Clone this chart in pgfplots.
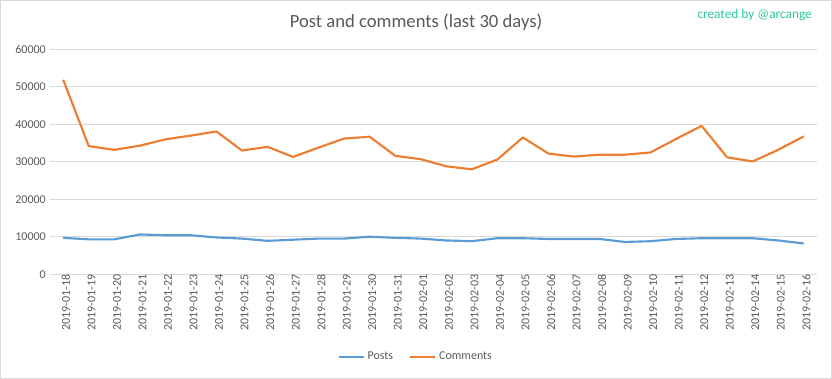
\documentclass[border=0pt]{standalone}
\usepackage{pgfplots}
\pgfplotsset{compat=1.18}
\usepackage{fontspec}
\setmainfont{Carlito}
\definecolor{postc}{HTML}{5B9BD5}
\definecolor{commc}{HTML}{ED7D31}
\definecolor{txt}{HTML}{595959}
\definecolor{gridc}{HTML}{D9D9D9}
\definecolor{credc}{HTML}{2CC79E}
\begin{document}
\begin{tikzpicture}
\path[use as bounding box, draw=gridc, line width=0.75pt] (-37.5pt,205.5pt) rectangle (586.5pt,-78pt);
\begin{axis}[
  at={(0,0)}, anchor=south west,
  scale only axis, width=575.25pt, height=168.75pt,
  xmin=-0.5, xmax=29.5, ymin=0, ymax=60000,
  ytick={0,10000,...,60000},
  scaled y ticks=false,
  xtick={0,...,29},
  xticklabels={2019-01-18,2019-01-19,2019-01-20,2019-01-21,2019-01-22,2019-01-23,2019-01-24,2019-01-25,2019-01-26,2019-01-27,2019-01-28,2019-01-29,2019-01-30,2019-01-31,2019-02-01,2019-02-02,2019-02-03,2019-02-04,2019-02-05,2019-02-06,2019-02-07,2019-02-08,2019-02-09,2019-02-10,2019-02-11,2019-02-12,2019-02-13,2019-02-14,2019-02-15,2019-02-16},
  xticklabel style={rotate=90, anchor=east, font=\fontsize{9}{10}\selectfont, text=txt, inner sep=0pt, yshift=-2pt},
  yticklabel style={font=\fontsize{9}{10}\selectfont, text=txt},
  /pgf/number format/1000 sep={},
  /pgf/number format/assume math mode=true,
  ymajorgrids, grid style={gridc, line width=0.75pt},
  axis line style={draw=none},
  major tick length=0pt,
  xtick pos=bottom, ytick pos=left,
  clip=false,
  legend columns=2,
  legend style={at={(axis description cs:0.5,0)}, anchor=center, xshift=-13.1pt, yshift=-62.25pt, draw=none, fill=none, font=\fontsize{9}{10}\selectfont, text=txt, /tikz/every even column/.append style={column sep=10pt}},
  legend image code/.code={\draw[#1] (0pt,0pt) -- (19pt,0pt);},
]
\addplot[postc, line width=1.6pt, line join=round] coordinates {
(0,9700) (1,9300) (2,9300) (3,10600) (4,10400) (5,10400) (6,9800) (7,9500) (8,8900) (9,9200)
(10,9500) (11,9500) (12,10000) (13,9700) (14,9500) (15,9000) (16,8800) (17,9600) (18,9600) (19,9400)
(20,9400) (21,9400) (22,8600) (23,8800) (24,9400) (25,9600) (26,9600) (27,9600) (28,9000) (29,8200)
};
\addlegendentry{Posts}
\addplot[commc, line width=1.6pt, line join=round] coordinates {
(0,51900) (1,34200) (2,33200) (3,34300) (4,36000) (5,37000) (6,38100) (7,33000) (8,34000) (9,31300)
(10,33800) (11,36200) (12,36700) (13,31600) (14,30700) (15,28800) (16,28000) (17,30600) (18,36500) (19,32200)
(20,31400) (21,31900) (22,31900) (23,32500) (24,36100) (25,39600) (26,31200) (27,30100) (28,33200) (29,36800)
};
\addlegendentry{Comments}
\end{axis}
\node[text=txt, font=\fontsize{14}{16}\selectfont] at (274.5pt,189pt) {Post and comments (last 30 days)};
\node[text=credc, font=\fontsize{10}{12}\selectfont, anchor=east] at (575.25pt,194.25pt) {created by @arcange};
\end{tikzpicture}
\end{document}
